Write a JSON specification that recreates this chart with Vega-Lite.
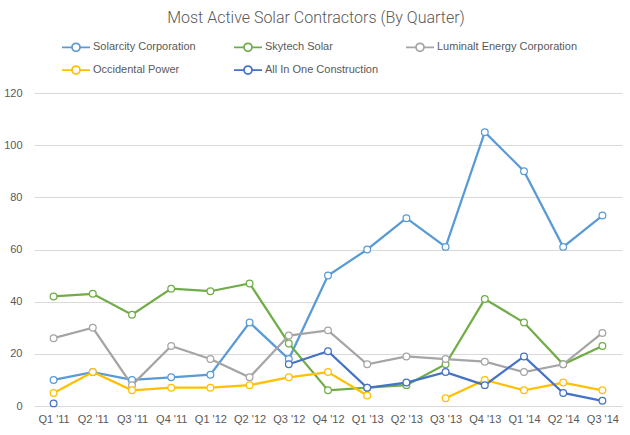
{
  "$schema": "https://vega.github.io/schema/vega-lite/v6.json",
  "width": 588,
  "height": 313,
  "autosize": {"type": "none"},
  "padding": {"left": 34, "top": 93, "right": 8, "bottom": 29},
  "background": "white",
  "title": {
    "text": "Most Active Solar Contractors (By Quarter)",
    "font": "Roboto",
    "fontWeight": 300,
    "fontSize": 16,
    "color": "#595959",
    "anchor": "middle",
    "frame": "group",
    "dx": -12,
    "offset": 12
  },
  "config": {
    "view": {"stroke": null},
    "axis": {"labelFont": "Liberation Sans", "labelFontSize": 11, "labelColor": "#595959"},
    "legend": {"labelFont": "Liberation Sans"}
  },
  "data": {
    "values": [
      {"quarter": "Q1 '11", "company": "Solarcity Corporation", "value": 10},
      {"quarter": "Q2 '11", "company": "Solarcity Corporation", "value": 13},
      {"quarter": "Q3 '11", "company": "Solarcity Corporation", "value": 10},
      {"quarter": "Q4 '11", "company": "Solarcity Corporation", "value": 11},
      {"quarter": "Q1 '12", "company": "Solarcity Corporation", "value": 12},
      {"quarter": "Q2 '12", "company": "Solarcity Corporation", "value": 32},
      {"quarter": "Q3 '12", "company": "Solarcity Corporation", "value": 18},
      {"quarter": "Q4 '12", "company": "Solarcity Corporation", "value": 50},
      {"quarter": "Q1 '13", "company": "Solarcity Corporation", "value": 60},
      {"quarter": "Q2 '13", "company": "Solarcity Corporation", "value": 72},
      {"quarter": "Q3 '13", "company": "Solarcity Corporation", "value": 61},
      {"quarter": "Q4 '13", "company": "Solarcity Corporation", "value": 105},
      {"quarter": "Q1 '14", "company": "Solarcity Corporation", "value": 90},
      {"quarter": "Q2 '14", "company": "Solarcity Corporation", "value": 61},
      {"quarter": "Q3 '14", "company": "Solarcity Corporation", "value": 73},
      {"quarter": "Q1 '11", "company": "Skytech Solar", "value": 42},
      {"quarter": "Q2 '11", "company": "Skytech Solar", "value": 43},
      {"quarter": "Q3 '11", "company": "Skytech Solar", "value": 35},
      {"quarter": "Q4 '11", "company": "Skytech Solar", "value": 45},
      {"quarter": "Q1 '12", "company": "Skytech Solar", "value": 44},
      {"quarter": "Q2 '12", "company": "Skytech Solar", "value": 47},
      {"quarter": "Q3 '12", "company": "Skytech Solar", "value": 24},
      {"quarter": "Q4 '12", "company": "Skytech Solar", "value": 6},
      {"quarter": "Q1 '13", "company": "Skytech Solar", "value": 7},
      {"quarter": "Q2 '13", "company": "Skytech Solar", "value": 8},
      {"quarter": "Q3 '13", "company": "Skytech Solar", "value": 16},
      {"quarter": "Q4 '13", "company": "Skytech Solar", "value": 41},
      {"quarter": "Q1 '14", "company": "Skytech Solar", "value": 32},
      {"quarter": "Q2 '14", "company": "Skytech Solar", "value": 16},
      {"quarter": "Q3 '14", "company": "Skytech Solar", "value": 23},
      {"quarter": "Q1 '11", "company": "Luminalt Energy Corporation", "value": 26},
      {"quarter": "Q2 '11", "company": "Luminalt Energy Corporation", "value": 30},
      {"quarter": "Q3 '11", "company": "Luminalt Energy Corporation", "value": 8},
      {"quarter": "Q4 '11", "company": "Luminalt Energy Corporation", "value": 23},
      {"quarter": "Q1 '12", "company": "Luminalt Energy Corporation", "value": 18},
      {"quarter": "Q2 '12", "company": "Luminalt Energy Corporation", "value": 11},
      {"quarter": "Q3 '12", "company": "Luminalt Energy Corporation", "value": 27},
      {"quarter": "Q4 '12", "company": "Luminalt Energy Corporation", "value": 29},
      {"quarter": "Q1 '13", "company": "Luminalt Energy Corporation", "value": 16},
      {"quarter": "Q2 '13", "company": "Luminalt Energy Corporation", "value": 19},
      {"quarter": "Q3 '13", "company": "Luminalt Energy Corporation", "value": 18},
      {"quarter": "Q4 '13", "company": "Luminalt Energy Corporation", "value": 17},
      {"quarter": "Q1 '14", "company": "Luminalt Energy Corporation", "value": 13},
      {"quarter": "Q2 '14", "company": "Luminalt Energy Corporation", "value": 16},
      {"quarter": "Q3 '14", "company": "Luminalt Energy Corporation", "value": 28},
      {"quarter": "Q1 '11", "company": "Occidental Power", "value": 5},
      {"quarter": "Q2 '11", "company": "Occidental Power", "value": 13},
      {"quarter": "Q3 '11", "company": "Occidental Power", "value": 6},
      {"quarter": "Q4 '11", "company": "Occidental Power", "value": 7},
      {"quarter": "Q1 '12", "company": "Occidental Power", "value": 7},
      {"quarter": "Q2 '12", "company": "Occidental Power", "value": 8},
      {"quarter": "Q3 '12", "company": "Occidental Power", "value": 11},
      {"quarter": "Q4 '12", "company": "Occidental Power", "value": 13},
      {"quarter": "Q1 '13", "company": "Occidental Power", "value": 4},
      {"quarter": "Q2 '13", "company": "Occidental Power", "value": null},
      {"quarter": "Q3 '13", "company": "Occidental Power", "value": 3},
      {"quarter": "Q4 '13", "company": "Occidental Power", "value": 10},
      {"quarter": "Q1 '14", "company": "Occidental Power", "value": 6},
      {"quarter": "Q2 '14", "company": "Occidental Power", "value": 9},
      {"quarter": "Q3 '14", "company": "Occidental Power", "value": 6},
      {"quarter": "Q1 '11", "company": "All In One Construction", "value": 1},
      {"quarter": "Q2 '11", "company": "All In One Construction", "value": null},
      {"quarter": "Q3 '11", "company": "All In One Construction", "value": null},
      {"quarter": "Q4 '11", "company": "All In One Construction", "value": null},
      {"quarter": "Q1 '12", "company": "All In One Construction", "value": null},
      {"quarter": "Q2 '12", "company": "All In One Construction", "value": null},
      {"quarter": "Q3 '12", "company": "All In One Construction", "value": 16},
      {"quarter": "Q4 '12", "company": "All In One Construction", "value": 21},
      {"quarter": "Q1 '13", "company": "All In One Construction", "value": 7},
      {"quarter": "Q2 '13", "company": "All In One Construction", "value": 9},
      {"quarter": "Q3 '13", "company": "All In One Construction", "value": 13},
      {"quarter": "Q4 '13", "company": "All In One Construction", "value": 8},
      {"quarter": "Q1 '14", "company": "All In One Construction", "value": 19},
      {"quarter": "Q2 '14", "company": "All In One Construction", "value": 5},
      {"quarter": "Q3 '14", "company": "All In One Construction", "value": 2}
    ]
  },
  "encoding": {
    "x": {
      "field": "quarter",
      "type": "nominal",
      "sort": null,
      "title": null,
      "axis": {"labelAngle": 0, "ticks": false, "domain": false, "grid": false, "labelPadding": 7}
    },
    "y": {
      "field": "value",
      "type": "quantitative",
      "title": null,
      "scale": {"domain": [0, 120]},
      "axis": {"values": [0, 20, 40, 60, 80, 100, 120], "ticks": false, "domain": false, "gridColor": "#D9D9D9", "gridWidth": 1, "labelPadding": 12}
    },
    "color": {
      "field": "company",
      "type": "nominal",
      "sort": ["Solarcity Corporation", "Skytech Solar", "Luminalt Energy Corporation", "Occidental Power", "All In One Construction"],
      "scale": {
        "domain": ["Solarcity Corporation", "Skytech Solar", "Luminalt Energy Corporation", "Occidental Power", "All In One Construction"],
        "range": ["#5B9BD5", "#70AD47", "#A5A5A5", "#FFC000", "#4472C4"]
      },
      "legend": {
        "title": null,
        "orient": "none",
        "direction": "horizontal",
        "legendX": 33,
        "legendY": -55,
        "columns": 3,
        "gridAlign": "all",
        "columnPadding": -4,
        "rowPadding": 6,
        "padding": 0,
        "labelOffset": 8,
        "labelFontSize": 11,
        "labelColor": "#595959",
        "labelLimit": 300,
        "symbolSize": 256,
        "symbolType": "M-1.75,0H-0.5M0.5,0H1.75M-0.5,0A0.5,0.5 0 1,1 0.5,0A0.5,0.5 0 1,1 -0.5,0",
        "symbolStrokeWidth": 1.75,
        "symbolFillColor": "white"
      }
    }
  },
  "layer": [
    {
      "mark": {"type": "line", "strokeWidth": 2.25}
    },
    {
      "transform": [{"filter": "datum.value != null"}],
      "mark": {"type": "point", "shape": "circle", "filled": false, "fill": "white", "opacity": 1, "size": 45, "strokeWidth": 1.25}
    }
  ]
}
